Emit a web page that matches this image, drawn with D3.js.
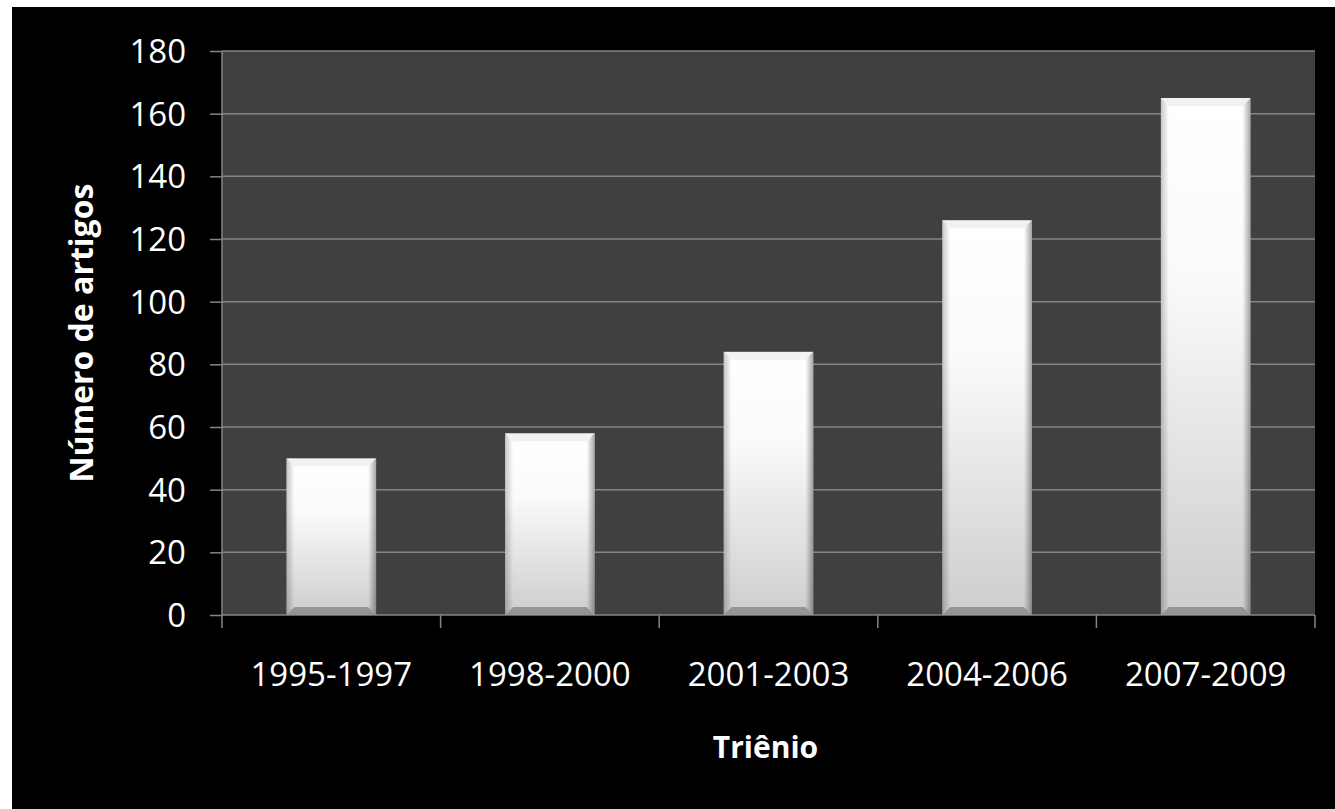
<!DOCTYPE html>
<html>
<head>
<meta charset="utf-8">
<script src="https://cdn.jsdelivr.net/npm/d3@7"></script>
<style>
  body { margin: 0; background: #fff; }
  text { font-family: "Open Sans", "Noto Sans", sans-serif; fill: #fff; }
</style>
</head>
<body>
<script>
  // data
  var trienios = ["1995-1997", "1998-2000", "2001-2003", "2004-2006", "2007-2009"];
  var artigos = [50, 58, 84, 126, 165];
  var yTicks = [0, 20, 40, 60, 80, 100, 120, 140, 160, 180];

  var W = 1335, H = 809;
  var margin = {top: 51, right: 20, bottom: 194, left: 222};
  var width = W - margin.left - margin.right;
  var height = H - margin.top - margin.bottom;

  var xScale = d3.scaleBand().domain(trienios).range([0, width]).paddingInner(0.59).paddingOuter(0.295);
  var xEdge = d3.scaleLinear().domain([0, trienios.length]).range([0, width]);
  var yScale = d3.scaleLinear().domain([0, 180]).range([height, 0]);

  var svg = d3.select("body").append("svg")
    .attr("width", W)
    .attr("height", H);

  svg.append("rect")
    .attr("x", 12).attr("y", 7)
    .attr("width", W - 12).attr("height", H - 7)
    .attr("fill", "#000");

  var defs = svg.append("defs");
  var g1 = defs.append("linearGradient").attr("id", "barFill")
    .attr("x1", 0).attr("y1", 0).attr("x2", 0).attr("y2", 1);
  g1.append("stop").attr("offset", "0%").attr("stop-color", "#ffffff");
  g1.append("stop").attr("offset", "35%").attr("stop-color", "#fafafa");
  g1.append("stop").attr("offset", "100%").attr("stop-color", "#cdcdcd");

  var gl = defs.append("linearGradient").attr("id", "leftBevel")
    .attr("x1", 0).attr("y1", 0).attr("x2", 1).attr("y2", 0);
  gl.append("stop").attr("offset", "0%").attr("stop-color", "#000").attr("stop-opacity", 0.22);
  gl.append("stop").attr("offset", "100%").attr("stop-color", "#000").attr("stop-opacity", 0);

  var gr = defs.append("linearGradient").attr("id", "rightBevel")
    .attr("x1", 1).attr("y1", 0).attr("x2", 0).attr("y2", 0);
  gr.append("stop").attr("offset", "0%").attr("stop-color", "#000").attr("stop-opacity", 0.35);
  gr.append("stop").attr("offset", "100%").attr("stop-color", "#000").attr("stop-opacity", 0);

  var chart = svg.append("g")
    .attr("transform", "translate(" + margin.left + "," + margin.top + ")");

  chart.append("rect")
    .attr("width", width).attr("height", height)
    .attr("fill", "#404040");

  // gridlines
  chart.selectAll("line.grid")
    .data(yTicks)
    .enter().append("line")
    .attr("class", "grid")
    .attr("x1", 0).attr("x2", width)
    .attr("y1", function(d){return yScale(d);})
    .attr("y2", function(d){return yScale(d);})
    .attr("stroke", "#858585")
    .attr("stroke-width", 1.5);

  // y axis
  var yAxis = d3.axisLeft(yScale).tickValues(yTicks).tickSize(12).tickPadding(24);
  var yAxisGroup = chart.append("g").call(yAxis);
  yAxisGroup.select(".domain").remove();
  yAxisGroup.selectAll(".tick line").attr("stroke", "#858585").attr("stroke-width", 1.5);
  yAxisGroup.selectAll(".tick text")
    .attr("fill", "#fff")
    .style("font-size", "33px")
    .attr("dy", "0.35em");
  chart.append("line")
    .attr("x1", 0).attr("x2", 0).attr("y1", 0).attr("y2", height)
    .attr("stroke", "#858585").attr("stroke-width", 1.5);

  // x axis ticks on category boundaries
  chart.selectAll("line.xtick")
    .data(d3.range(trienios.length + 1))
    .enter().append("line")
    .attr("class", "xtick")
    .attr("x1", function(d){return xEdge(d);})
    .attr("x2", function(d){return xEdge(d);})
    .attr("y1", height).attr("y2", height + 13)
    .attr("stroke", "#858585").attr("stroke-width", 1.5);

  chart.selectAll("text.xlab")
    .data(trienios)
    .enter().append("text")
    .attr("class", "xlab")
    .attr("x", function(d){return xScale(d) + xScale.bandwidth() / 2;})
    .attr("y", height + 71)
    .attr("text-anchor", "middle")
    .style("font-size", "33px")
    .text(function(d){return d;});

  // bars with bevel
  var bev = 8;
  var bars = chart.selectAll("g.bar")
    .data(artigos)
    .enter().append("g")
    .attr("class", "bar")
    .attr("transform", function(d, i){return "translate(" + xScale(trienios[i]) + "," + yScale(d) + ")";});

  var bw = xScale.bandwidth();
  bars.append("rect")
    .attr("width", bw)
    .attr("height", function(d){return height - yScale(d);})
    .attr("fill", "url(#barFill)");

  bars.append("path")
    .attr("d", function(d){
      var h = height - yScale(d);
      return "M0,0L" + bev + "," + bev + "L" + bev + "," + (h - bev) + "L0," + h + "Z";
    })
    .attr("fill", "url(#leftBevel)");

  bars.append("path")
    .attr("d", function(d){
      var h = height - yScale(d);
      return "M" + bw + ",0L" + (bw - bev) + "," + bev + "L" + (bw - bev) + "," + (h - bev) + "L" + bw + "," + h + "Z";
    })
    .attr("fill", "url(#rightBevel)");

  bars.append("path")
    .attr("d", function(d){
      var h = height - yScale(d);
      return "M0," + h + "L" + bev + "," + (h - bev) + "L" + (bw - bev) + "," + (h - bev) + "L" + bw + "," + h + "Z";
    })
    .attr("fill", "#000").attr("fill-opacity", 0.28);

  bars.append("path")
    .attr("d", "M0,0L" + bev + "," + bev + "L" + (bw - bev) + "," + bev + "L" + bw + ",0Z")
    .attr("fill", "#000").attr("fill-opacity", 0.05);

  // axis titles
  svg.append("text")
    .attr("x", margin.left + width / 2 - 3)
    .attr("y", 758)
    .attr("text-anchor", "middle")
    .style("font-size", "30px")
    .style("font-weight", "bold")
    .text("Triênio");

  svg.append("text")
    .attr("transform", "translate(93," + (margin.top + height / 2) + ") rotate(-90)")
    .attr("text-anchor", "middle")
    .style("font-size", "32px")
    .style("font-weight", "bold")
    .text("Número de artigos");
</script>
</body>
</html>
